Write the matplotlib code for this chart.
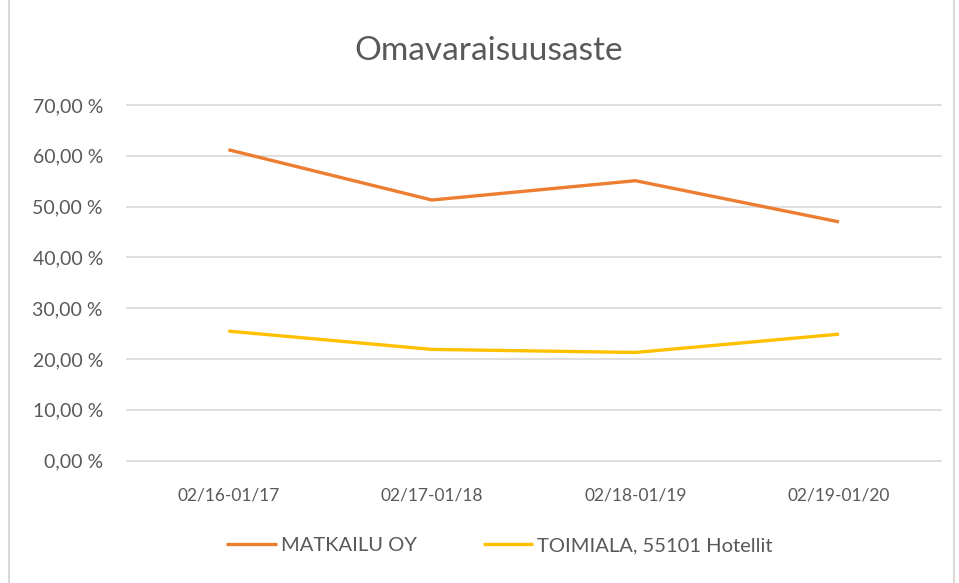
import matplotlib.pyplot as plt
from matplotlib.patches import Rectangle
from matplotlib.ticker import FuncFormatter

plt.rcParams['font.family'] = ['Lato', 'DejaVu Sans']

# Tiedot
kaudet = ['02/16-01/17', '02/17-01/18', '02/18-01/19', '02/19-01/20']
matkailu = [61.2, 51.3, 55.1, 47.0]
toimiala = [25.5, 21.9, 21.3, 24.9]

fig = plt.figure(figsize=(9.59, 5.83), dpi=100)
ax = fig.add_axes([0.132, 0.2098, 0.849, 0.6101])

ax.plot(range(len(kaudet)), matkailu, color='#ED7D31', linewidth=2.4,
        label='MATKAILU OY', solid_capstyle='butt')
ax.plot(range(len(kaudet)), toimiala, color='#FFC000', linewidth=2.4,
        label='TOIMIALA, 55101 Hotellit', solid_capstyle='butt')

ax.set_xlim(-0.5, len(kaudet) - 0.5)
ax.set_ylim(0, 70)
ax.set_yticks(range(0, 71, 10))
ax.yaxis.set_major_formatter(FuncFormatter(lambda v, p: f'{v:.2f} %'.replace('.', ',')))
ax.set_xticks(range(len(kaudet)))
ax.set_xticklabels(kaudet)

ax.grid(axis='y', color='#D9D9D9', linewidth=1.2)
for g in ax.get_ygridlines():
    g.set_clip_on(False)
ax.set_axisbelow(True)
for s in ax.spines.values():
    s.set_visible(False)
ax.tick_params(length=0, colors='#595959')
ax.tick_params(axis='x', pad=19, labelsize=12.5)
ax.tick_params(axis='y', pad=17, labelsize=14)

fig.text(0.509, 0.913, 'Omavaraisuusaste', ha='center', va='center',
         fontsize=24, color='#595959')

fig.legend(loc='center', bbox_to_anchor=(0.521, 0.064), ncol=2, frameon=False,
           fontsize=14.5, labelcolor='#595959', handlelength=2.5,
           handletextpad=0.2, columnspacing=3.3)

fig.patches.append(Rectangle((0.009, -0.01), 0.986, 1.02, transform=fig.transFigure,
                             fill=False, edgecolor='#D9D9D9', linewidth=1.5))

fig.savefig('out.png', dpi=100)
